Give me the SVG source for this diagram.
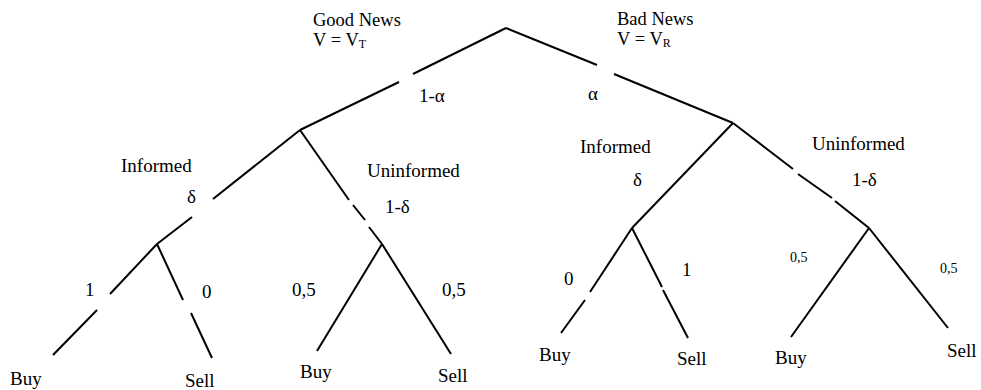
<svg xmlns="http://www.w3.org/2000/svg" width="981" height="390" viewBox="0 0 981 390">
<style>
.t{font-family:'Liberation Serif','Times New Roman',serif;font-size:19px;fill:#000}
.h{font-family:'Liberation Serif','Times New Roman',serif;font-size:18.5px;fill:#000}
.s{font-family:'Liberation Serif','Times New Roman',serif;font-size:14px;fill:#000}
.sub{font-size:12px}
.e line{stroke:#000;stroke-width:2;stroke-linecap:butt}
</style>
<rect width="981" height="390" fill="#fff"/>
<g id="connectors" class="e">
<line x1="506" y1="28" x2="413" y2="74"/>
<line x1="399" y1="82" x2="300" y2="130"/>
<line x1="506" y1="28" x2="597" y2="65"/>
<line x1="614" y1="74" x2="733" y2="123"/>
<line x1="300" y1="130" x2="213" y2="199"/>
<line x1="192" y1="217" x2="157" y2="244"/>
<line x1="300" y1="130" x2="349" y2="200"/>
<line x1="353" y1="205" x2="365" y2="220"/>
<line x1="369" y1="227" x2="382" y2="244"/>
<line x1="157" y1="244" x2="110" y2="294"/>
<line x1="97" y1="310" x2="53" y2="355"/>
<line x1="157" y1="244" x2="183" y2="300"/>
<line x1="191" y1="313" x2="212" y2="358"/>
<line x1="382" y1="244" x2="317" y2="351"/>
<line x1="382" y1="244" x2="451" y2="354"/>
<line x1="733" y1="123" x2="632" y2="228"/>
<line x1="733" y1="123" x2="793" y2="169"/>
<line x1="798" y1="174" x2="832" y2="198"/>
<line x1="835" y1="201" x2="869" y2="228"/>
<line x1="632" y1="228" x2="590" y2="292"/>
<line x1="585" y1="300" x2="561" y2="333"/>
<line x1="632" y1="228" x2="662" y2="287"/>
<line x1="663" y1="290" x2="688" y2="338"/>
<line x1="869" y1="228" x2="791" y2="337"/>
<line x1="869" y1="228" x2="948" y2="328"/>
</g>
<g id="root"><text class="h" x="313" y="26">Good News</text><text class="h" x="313" y="46">V = V<tspan class="sub" dy="2">T</tspan></text>
<text class="h" x="617" y="25">Bad News</text><text class="h" x="617" y="45">V = V<tspan class="sub" dy="2">R</tspan></text></g>
<g id="good"><text class="t" x="419" y="102">1-α</text></g>
<g id="bad"><text class="t" x="588" y="100">α</text></g>
<g id="good-informed"><text class="t" x="121" y="172">Informed</text><text class="t" x="187" y="203">δ</text></g>
<g id="good-uninformed"><text class="t" x="367" y="177">Uninformed</text><text class="t" x="385" y="213">1-δ</text></g>
<g id="good-informed-leaves"><text class="t" x="85" y="296">1</text><text class="t" x="202" y="298">0</text>
<text class="t" x="10" y="385">Buy</text><text class="t" x="185" y="387">Sell</text></g>
<g id="good-uninformed-leaves"><text class="t" x="292" y="296">0,5</text><text class="t" x="442" y="296">0,5</text>
<text class="t" x="300" y="378">Buy</text><text class="t" x="438" y="382">Sell</text></g>
<g id="bad-informed"><text class="t" x="580" y="153">Informed</text><text class="t" x="633" y="186">δ</text></g>
<g id="bad-uninformed"><text class="t" x="812" y="150">Uninformed</text><text class="t" x="852" y="186">1-δ</text></g>
<g id="bad-informed-leaves"><text class="t" x="564" y="285">0</text><text class="t" x="682" y="276">1</text>
<text class="t" x="539" y="361">Buy</text><text class="t" x="677" y="365">Sell</text></g>
<g id="bad-uninformed-leaves"><text class="s" x="790" y="262">0,5</text><text class="s" x="940" y="273">0,5</text>
<text class="t" x="775" y="364">Buy</text><text class="t" x="947" y="357">Sell</text></g>
</svg>
